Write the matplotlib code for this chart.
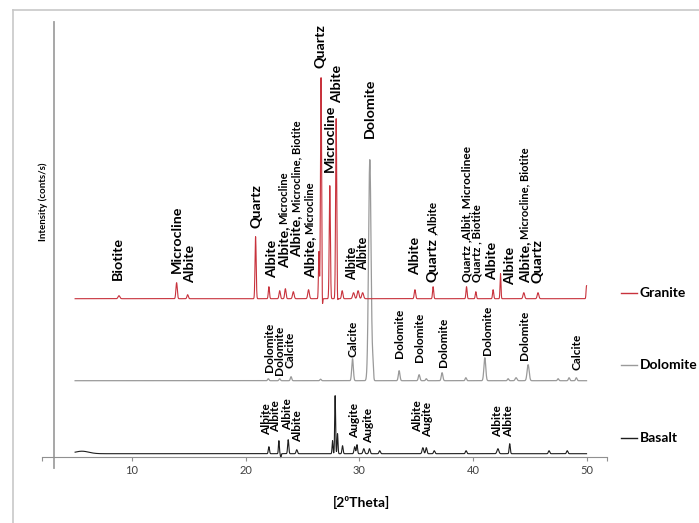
import numpy as np
import matplotlib.pyplot as plt
from matplotlib.lines import Line2D

# peak lists: 2theta position, height above baseline, width (sigma)
granite_base = 158
granite_pos = [8.86, 13.93, 14.9, 20.88, 22.05, 23.0, 23.5, 24.2, 25.54, 26.45, 26.64, 26.75,
               27.41, 27.97, 28.08, 28.5, 29.5, 29.9, 30.3, 34.9, 36.5, 39.44, 40.26, 41.78,
               42.43, 44.48, 45.73, 50.0]
granite_int = [3, 16, 4, 62, 12, 8, 10, 7, 9, 47, 221, -15,
               113, 180, -7, 8, 6, 8, 6, 9, 12, 12, 7, 9,
               25, 6, 6, 13]
granite_wid = [0.08, 0.06, 0.06, 0.05, 0.05, 0.06, 0.06, 0.07, 0.07, 0.04, 0.05, 0.03,
               0.05, 0.05, 0.03, 0.06, 0.08, 0.08, 0.08, 0.06, 0.05, 0.05, 0.05, 0.05,
               0.04, 0.07, 0.07, 0.04]

dolomite_base = 76
dolomite_pos = [22.0, 23.0, 24.0, 26.6, 29.41, 30.93, 31.2, 33.51, 35.27, 35.9, 37.29,
                39.38, 41.05, 43.1, 43.8, 44.86, 47.5, 48.46, 49.1]
dolomite_int = [2, 2, 4, 1.5, 22, 221, 14, 10, 6, 2, 8, 3, 23, 2, 3, 16, 2, 3, 3]
dolomite_wid = [0.06, 0.06, 0.06, 0.06, 0.07, 0.11, 0.05, 0.07, 0.07, 0.06, 0.07,
                0.06, 0.08, 0.06, 0.08, 0.09, 0.06, 0.06, 0.06]

basalt_base = 3
basalt_pos = [5.6, 22.05, 22.93, 23.1, 23.75, 24.5, 27.65, 27.88, 28.09, 28.53, 29.6, 29.8,
              30.4, 30.9, 31.8, 35.6, 35.9, 36.6, 39.4, 42.2, 43.24, 46.7, 48.3]
basalt_int = [2.5, 7, 13, -4, 14, 4, 13, 58, 20, 8, 7, 9, 5, 5, 3, 6, 6, 3, 3, 5, 10, 3, 3]
basalt_wid = [0.6, 0.05, 0.04, 0.03, 0.05, 0.06, 0.04, 0.04, 0.04, 0.05, 0.06, 0.05,
              0.07, 0.06, 0.06, 0.07, 0.06, 0.06, 0.06, 0.08, 0.05, 0.06, 0.06]

# phase labels: 2theta, bottom of text, [(text, size)]
granite_labels = [
    (8.74, 176.7, [("Biotite", 10.3)]),
    (13.93, 183.4, [("Microcline", 10.3)]),
    (15.1, 173.4, [("Albite", 10.3)]),
    (20.97, 228.4, [("Quartz", 10.3)]),
    (22.34, 178.4, [("Albite", 10.3)]),
    (23.37, 188.4, [("Albite,", 10.3), ("Microcline", 8)]),
    (24.49, 200.0, [("Albite,", 10.3), ("Microcline, Biotite", 8)]),
    (25.66, 178.4, [("Albite,", 10.3), ("Microcline", 8)]),
    (26.6, 388.4, [("Quartz", 10.3)]),
    (27.41, 285.0, [("Microcline", 10.3)]),
    (28.09, 353.4, [("Albite", 10.3)]),
    (30.93, 318.4, [("Dolomite", 10.3)]),
    (29.34, 176.7, [("Albite", 9)]),
    (30.3, 186.7, [("Albite", 9)]),
    (34.89, 181.7, [("Albite", 10.3)]),
    (36.45, 175.0, [("Quartz", 10.3), (",Albite", 8.5)]),
    (39.45, 175.0, [("Quartz ,Albit, Microclinee", 8.6)]),
    (40.35, 175.0, [("Quartz , Biotite", 8.2)]),
    (41.69, 176.7, [("Albite", 10.3)]),
    (43.25, 171.7, [("Albite", 10.3)]),
    (44.56, 173.4, [("Albite,", 10.3), ("Microcline, Biotite", 8)]),
    (45.65, 173.4, [("Quartz", 10.3)]),
]
dolomite_labels = [
    (22.1, 85.0, "Dolomite"), (22.97, 81.7, "Dolomite"), (23.9, 88.4, "Calcite"),
    (29.41, 100.0, "Calcite"), (33.57, 98.4, "Dolomite"), (35.33, 95.0, "Dolomite"),
    (37.38, 90.0, "Dolomite"), (41.25, 101.7, "Dolomite"), (44.56, 96.7, "Dolomite"),
    (49.2, 86.7, "Calcite"),
]
basalt_labels = [
    (21.82, 21.7, "Albite"), (22.68, 25.0, "Albite"), (23.66, 26.7, "Albite"),
    (24.56, 15.0, "Albite"), (29.61, 18.4, "Augite"), (30.8, 13.4, "Augite"),
    (35.12, 25.0, "Albite"), (35.97, 20.0, "Augite"), (42.14, 20.0, "Albite"),
    (43.12, 20.0, "Albite"),
]

series = ["Granite", "Dolomite", "Basalt"]
colors = ["#c8323c", "#9a9a9a", "#1e1e1e"]
legend_y = [292.7, 365, 437.7]

W, H = 699, 523
plt.rcParams['font.family'] = ['Lato', 'DejaVu Sans']
fig = plt.figure(figsize=(W / 100, H / 100), dpi=100)
fig.patch.set_facecolor("white")

# light frame round the picture
fig.add_artist(Line2D([12.7 / W, 12.7 / W], [0, 1 - 9.7 / H], color="#c8c8c8", lw=1.2))
fig.add_artist(Line2D([12.7 / W, 1], [1 - 9.7 / H, 1 - 9.7 / H], color="#c8c8c8", lw=1.2))

ax = fig.add_axes([41.7 / W, 1 - 468 / H, (607 - 41.7) / W, (468 - 21.7) / H])
ax.set_xlim(2.06, 51.8)
ax.set_ylim(-11.3, 435)
ax.patch.set_alpha(0)

theta = np.arange(5, 50.001, 0.01)


def pattern(base, pos, hgt, wid):
    y = np.full_like(theta, float(base))
    for p, h, w in zip(pos, hgt, wid):
        y += h * np.exp(-0.5 * ((theta - p) / w) ** 2)
    return y


ax.plot(theta, pattern(basalt_base, basalt_pos, basalt_int, basalt_wid), color=colors[2], lw=0.8)
ax.plot(theta, pattern(dolomite_base, dolomite_pos, dolomite_int, dolomite_wid), color=colors[1], lw=0.9)
ax.plot(theta, pattern(granite_base, granite_pos, granite_int, granite_wid), color=colors[0], lw=0.8)

renderer = fig.canvas.get_renderer()


def label(x, y, parts):
    for txt, size in parts:
        t = ax.text(x, y, txt, rotation=90, rotation_mode="anchor", ha="left", va="center",
                    fontsize=size, fontweight="bold", color="black")
        bb = t.get_window_extent(renderer)
        y = ax.transData.inverted().transform((bb.x0, bb.y1))[1] + 3


for x, y, parts in granite_labels:
    label(x, y, parts)
for x, y, txt in dolomite_labels:
    label(x, y, [(txt, 8.6)])
for x, y, txt in basalt_labels:
    label(x, y, [(txt, 8.6)])

for s in ["top", "right"]:
    ax.spines[s].set_visible(False)
ax.spines["left"].set_position(("data", 3.12))
ax.spines["left"].set_color("#a0a0a0")
ax.spines["left"].set_linewidth(1.3)
ax.spines["bottom"].set_position(("data", 0))
ax.spines["bottom"].set_color("#909090")
ax.spines["bottom"].set_linewidth(0.8)
ax.set_yticks([])
ax.set_xticks([2.06, 10, 20, 30, 40, 50, 51.8])
ax.set_xticklabels(["", "10", "20", "30", "40", "50", ""])
ax.tick_params(axis="x", direction="out", length=3, width=0.8, color="#909090",
               labelsize=8, labelcolor="#404040", pad=3)

fig.text(43.3 / W, 1 - 201.7 / H, "Intensity (conts/s)", rotation=90, ha="center", va="center",
         fontsize=7, fontweight="bold")
fig.text(362 / W, 1 - 502.6 / H, "[2\u2070Theta]", ha="center", va="center",
         fontsize=10, fontweight="bold")

for name, c, ly in zip(series, colors, legend_y):
    fig.add_artist(Line2D([621 / W, 637 / W], [1 - ly / H] * 2, color=c, lw=1))
    fig.text(640 / W, 1 - ly / H, name, ha="left", va="center", fontsize=10, fontweight="bold")

fig.savefig("out.png", dpi=100)
